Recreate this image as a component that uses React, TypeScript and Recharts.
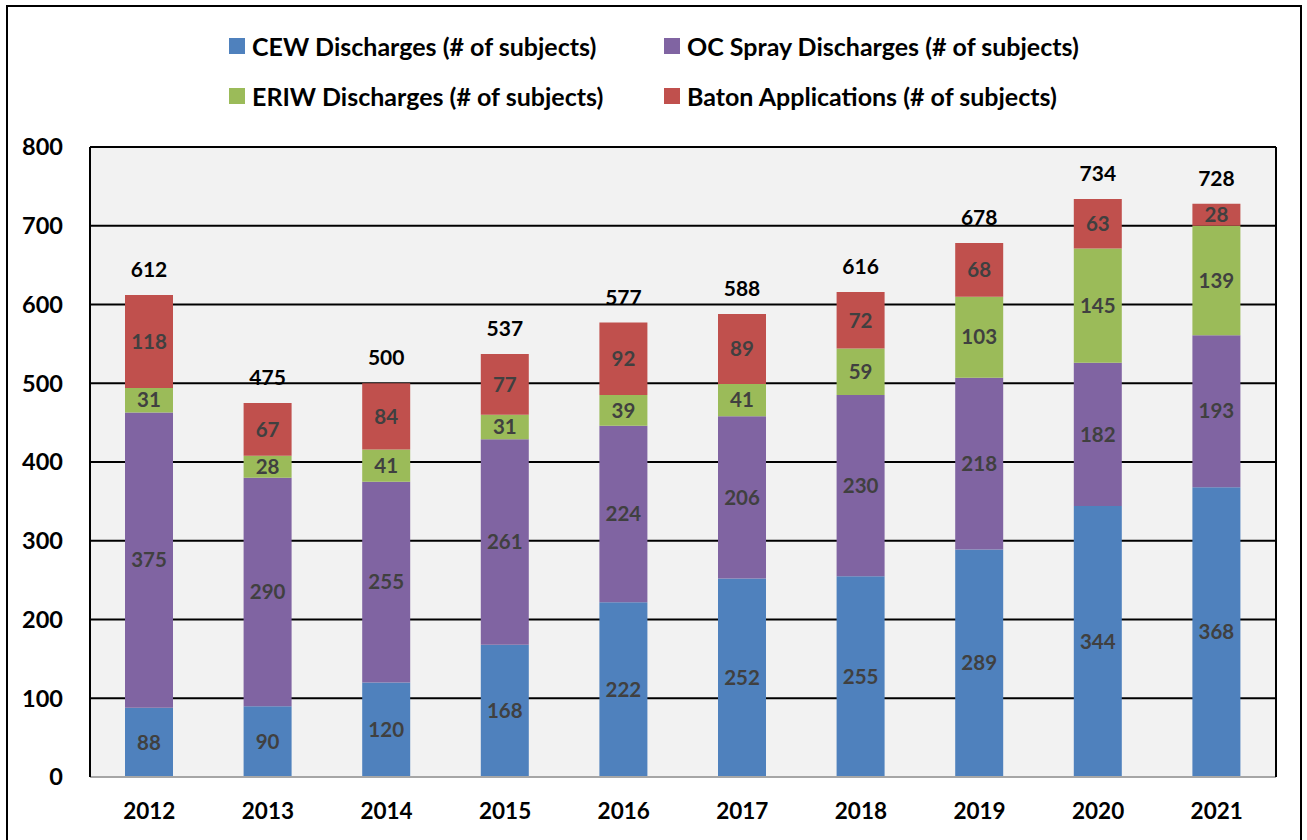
import React from "react"
import {
  BarChart,
  Bar,
  XAxis,
  YAxis,
  CartesianGrid,
  LabelList,
} from "recharts"

const years = ["2012", "2013", "2014", "2015", "2016", "2017", "2018", "2019", "2020", "2021"]
const cewDischarges = [88, 90, 120, 168, 222, 252, 255, 289, 344, 368]
const ocSprayDischarges = [375, 290, 255, 261, 224, 206, 230, 218, 182, 193]
const eriwDischarges = [31, 28, 41, 31, 39, 41, 59, 103, 145, 139]
const batonApplications = [118, 67, 84, 77, 92, 89, 72, 68, 63, 28]
const yTicks = [0, 100, 200, 300, 400, 500, 600, 700, 800]

const FONT = "Lato, 'Open Sans', sans-serif"

const series = [
  { key: "cew", name: "CEW Discharges (# of subjects)", color: "#4F81BD" },
  { key: "oc", name: "OC Spray Discharges (# of subjects)", color: "#8064A2" },
  { key: "eriw", name: "ERIW Discharges (# of subjects)", color: "#9BBB59" },
  { key: "baton", name: "Baton Applications (# of subjects)", color: "#C0504D" },
]

const data = years.map((year, i) => ({
  year,
  cew: cewDischarges[i],
  oc: ocSprayDischarges[i],
  eriw: eriwDischarges[i],
  baton: batonApplications[i],
  total: cewDischarges[i] + ocSprayDischarges[i] + eriwDischarges[i] + batonApplications[i],
}))

// legend order in the picture: CEW, OC / ERIW, Baton
function ChartLegend() {
  return (
    <div
      style={{
        position: "absolute",
        left: 229,
        top: 31,
        display: "grid",
        gridTemplateColumns: "435px 440px",
        rowGap: 20,
        fontFamily: FONT,
        fontWeight: 700,
        fontSize: 25,
        color: "#000",
      }}
    >
      {series.map((s) => (
        <div key={s.key} style={{ display: "flex", alignItems: "center", height: 30 }}>
          <span
            style={{ width: 16, height: 16, background: s.color, marginRight: 7, flexShrink: 0 }}
          />
          <span style={{ whiteSpace: "nowrap" }}>{s.name}</span>
        </div>
      ))}
    </div>
  )
}

export default function App() {
  return (
    <div style={{ position: "absolute", left: 0, top: 0, width: 1307, height: 840, background: "#fff" }}>
      <div
        style={{
          position: "absolute",
          left: 6,
          top: 5,
          width: 1292,
          height: 850,
          border: "2px solid #000",
        }}
      />
      <ChartLegend />
      <div style={{ position: "absolute", left: 0, top: 0 }}>
        <BarChart
          width={1307}
          height={840}
          data={data}
          margin={{ top: 147, right: 30, bottom: 33, left: 0 }}
          barSize={48}
        >
          <CartesianGrid
            fill="#F2F2F2"
            stroke="#000"
            strokeWidth={2}
            vertical={false}
          />
          <XAxis
            dataKey="year"
            height={30}
            tickLine={false}
            tickSize={0}
            tickMargin={26}
            axisLine={{ stroke: "#A6A6A6", strokeWidth: 2 }}
            tick={{ fill: "#000", fontSize: 22.5, fontWeight: 700, fontFamily: FONT }}
          />
          <YAxis
            width={90}
            domain={[0, 800]}
            ticks={yTicks}
            tickLine={false}
            tickSize={0}
            tickMargin={27}
            axisLine={{ stroke: "#000", strokeWidth: 2 }}
            tick={{ fill: "#000", fontSize: 23.5, fontWeight: 700, fontFamily: FONT }}
          />
          <YAxis
            yAxisId="frame"
            orientation="right"
            width={1}
            tick={false}
            tickLine={false}
            axisLine={{ stroke: "#000", strokeWidth: 2 }}
          />
          {series.map((s, idx) => (
            <Bar
              key={s.key}
              dataKey={s.key}
              name={s.name}
              stackId="a"
              fill={s.color}
              isAnimationActive={false}
            >
              <LabelList
                dataKey={s.key}
                position="center"
                fill="#404040"
                fontSize={20.5}
                fontWeight={700}
                fontFamily={FONT}
              />
              {idx === series.length - 1 && (
                <LabelList
                  dataKey="total"
                  position="top"
                  offset={18}
                  fill="#000"
                  fontSize={21}
                  fontWeight={700}
                  fontFamily={FONT}
                />
              )}
            </Bar>
          ))}
        </BarChart>
      </div>
    </div>
  )
}
